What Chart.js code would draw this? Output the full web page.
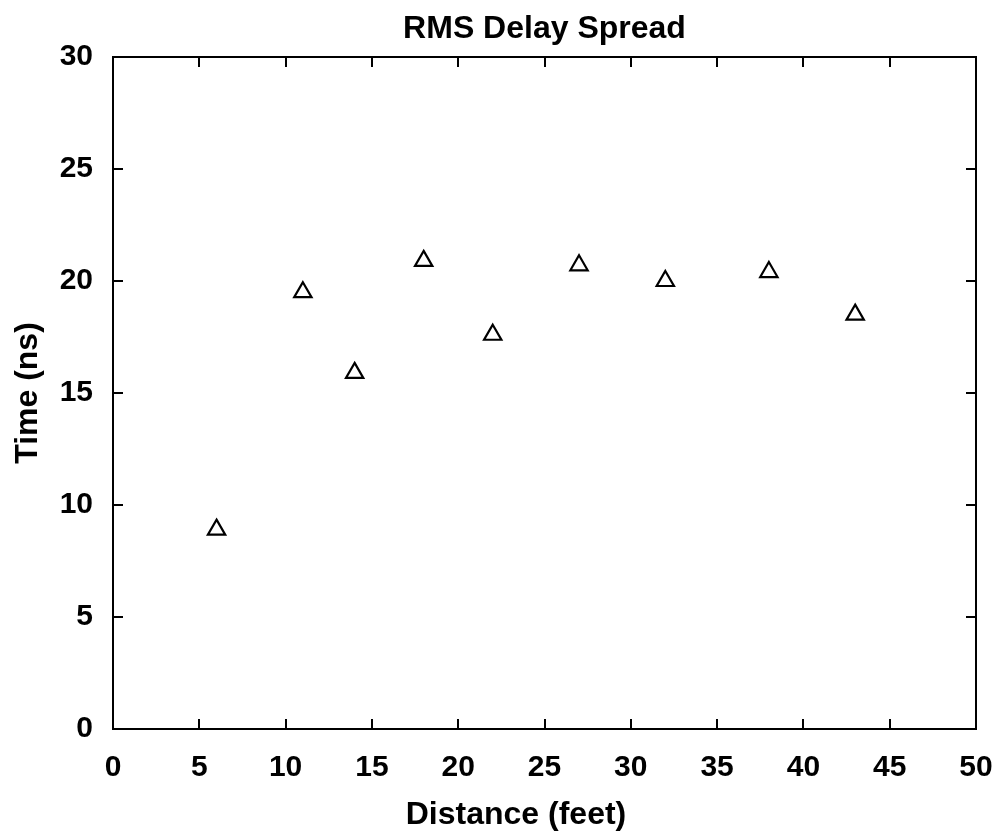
<!DOCTYPE html>
<html>
<head>
<meta charset="utf-8">
<script src="https://cdn.jsdelivr.net/npm/chart.js@4"></script>
<style>
  html, body { margin: 0; padding: 0; background: #fff; }
  #wrap { width: 1000px; height: 834px; position: relative; }
</style>
</head>
<body>
<div id="wrap"><canvas id="chartRms"></canvas></div>
<script>
// Datos
const distancia = [6, 11, 14, 18, 22, 27, 32, 38, 43];   // feet
const tiempoRms = [8.9, 19.5, 15.9, 20.9, 17.6, 20.7, 20.0, 20.4, 18.5]; // ns

const xMin = 0, xMax = 50, xPaso = 5;
const yMin = 0, yMax = 30, yPaso = 5;

const titulo = 'RMS Delay Spread';
const tituloX = 'Distance (feet)';
const tituloY = 'Time (ns)';

const fuente = 'Liberation Sans, Arial, Helvetica, sans-serif';

// Marco, ticks hacia dentro en los cuatro lados y textos (estilo gnuplot)
const marcoPlugin = {
  id: 'marco',
  afterDraw(chart) {
    const { ctx, chartArea: a, scales: { x, y } } = chart;
    const largo = 10;
    ctx.save();
    ctx.strokeStyle = '#000';
    ctx.lineWidth = 2;
    ctx.beginPath();
    x.ticks.forEach(t => {
      const px = Math.round(x.getPixelForValue(t.value));
      ctx.moveTo(px, a.bottom); ctx.lineTo(px, a.bottom - largo);
      ctx.moveTo(px, a.top); ctx.lineTo(px, a.top + largo);
    });
    y.ticks.forEach(t => {
      const py = Math.round(y.getPixelForValue(t.value));
      ctx.moveTo(a.left, py); ctx.lineTo(a.left + largo, py);
      ctx.moveTo(a.right, py); ctx.lineTo(a.right - largo, py);
    });
    ctx.stroke();
    ctx.strokeRect(a.left, a.top, a.right - a.left, a.bottom - a.top);

    // titulo centrado sobre el area del grafico
    ctx.fillStyle = '#000';
    ctx.textAlign = 'center';
    ctx.textBaseline = 'alphabetic';
    ctx.font = 'bold 32px ' + fuente;
    ctx.fillText(titulo, (a.left + a.right) / 2, 38);
    // titulo del eje x (un poco a la izquierda, como el original)
    ctx.fillText(tituloX, 516, 824);
    ctx.restore();
  }
};

Chart.defaults.color = '#000';
Chart.defaults.font.family = fuente;

const ctx = document.getElementById('chartRms').getContext('2d');
new Chart(ctx, {
  type: 'scatter',
  data: {
    datasets: [{
      label: titulo,
      data: distancia.map((d, i) => ({ x: d, y: tiempoRms[i] })),
      pointStyle: 'triangle',
      pointRadius: 10,
      pointHoverRadius: 10,
      borderColor: '#000',
      backgroundColor: 'rgba(0,0,0,0)',
      pointBorderWidth: 2.2,
      showLine: false
    }]
  },
  options: {
    responsive: true,
    maintainAspectRatio: false,
    animation: false,
    layout: { padding: { top: 57, right: 24, left: 0, bottom: 0 } },
    plugins: {
      legend: { display: false },
      tooltip: { enabled: false },
      title: { display: false }
    },
    scales: {
      x: {
        type: 'linear',
        min: xMin, max: xMax,
        ticks: { stepSize: xPaso, padding: 21, font: { size: 30, weight: 'bold' } },
        grid: { display: false, drawTicks: false },
        border: { display: false },
        afterFit(scale) {
          scale.height = 105;
          scale.paddingLeft = 0;
          scale.paddingRight = 0;
        }
      },
      y: {
        type: 'linear',
        min: yMin, max: yMax,
        ticks: { stepSize: yPaso, padding: 20, font: { size: 30, weight: 'bold' } },
        grid: { display: false, drawTicks: false },
        border: { display: false },
        title: {
          display: true,
          text: tituloY,
          font: { size: 32, weight: 'bold' },
          padding: { top: 9, bottom: 0 }
        },
        afterFit(scale) { scale.width = 113; }
      }
    }
  },
  plugins: [marcoPlugin]
});
</script>
</body>
</html>
